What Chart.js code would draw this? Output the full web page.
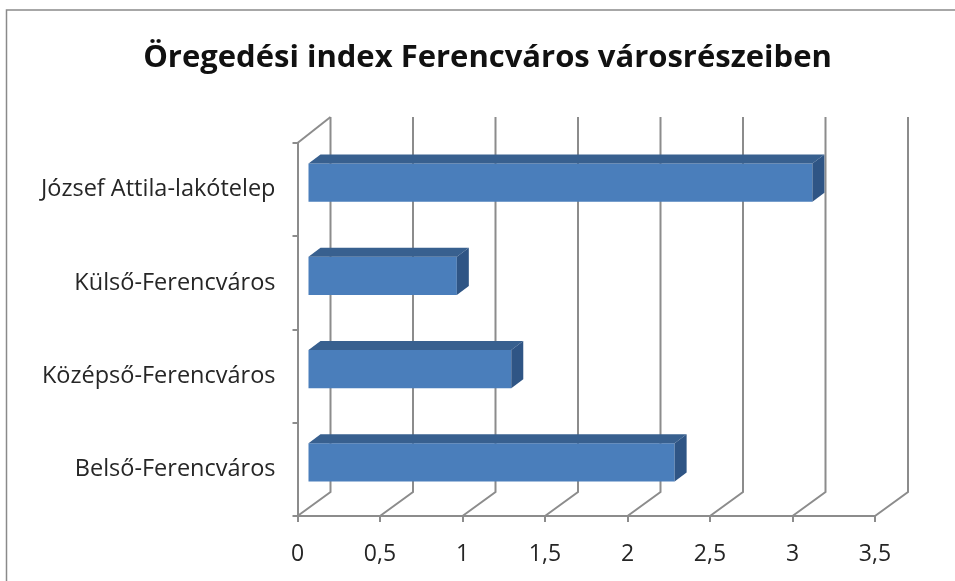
<!DOCTYPE html>
<html><head><meta charset="utf-8">
<style>html,body{margin:0;padding:0;background:#fff;overflow:hidden}#w{width:955px;height:581px}canvas{display:block;filter:blur(0.45px)}</style>
<script src="https://cdn.jsdelivr.net/npm/chart.js@4"></script></head>
<body><div id="w"><canvas id="c" width="955" height="581"></canvas></div>
<script>
const categories = ["József Attila-lakótelep","Külső-Ferencváros","Középső-Ferencváros","Belső-Ferencváros"];
const values = [3.06,0.905,1.235,2.225];
const titleText = "Öregedési index Ferencváros városrészeiben";
const axisMax = 3.5, axisStep = 0.5;
const gridCol = "#8c8c8c", front = "#4a7ebb", topFace = "#38608f", sideFace = "#2f5585";
const DX = 33, DY = 24, BX = 10, BY = 7, BDX = 12, BDY = 9;

const threeD = {
  id:"threeD",
  afterLayout(ch){ if(ch.titleBlock){ch.titleBlock.left+=50;ch.titleBlock.right+=50;} },
  beforeDatasetsDraw(ch){
    const c=ch.ctx,x=ch.scales.x,a=ch.chartArea;
    c.save();
    c.strokeStyle="#8a8a8a";c.lineWidth=1.5;
    c.beginPath();c.moveTo(955,10);c.lineTo(6.5,10);c.lineTo(6.5,581);c.stroke();
    c.strokeStyle=gridCol;c.lineWidth=2;
    for(let v=0;v<=axisMax+1e-9;v+=axisStep){
      const p=x.getPixelForValue(v);
      c.beginPath();c.moveTo(p,a.bottom);c.lineTo(p+DX,a.bottom-DY);c.lineTo(p+DX,a.top-DY-2);c.stroke();
    }
    const p0=x.left;
    c.beginPath();c.moveTo(p0,a.top);c.lineTo(p0+DX,a.top-DY-2);c.stroke();
    c.restore();
    c.save();c.translate(BX,-BY);
  },
  afterDatasetsDraw(ch){
    const c=ch.ctx;
    ch.getDatasetMeta(0).data.forEach(b=>{
      const t=b.y-b.height/2,bm=b.y+b.height/2,l=b.base,r=b.x;
      c.fillStyle=topFace;c.beginPath();c.moveTo(l,t);c.lineTo(l+BDX,t-BDY);c.lineTo(r+BDX,t-BDY);c.lineTo(r,t);c.closePath();c.fill();
      c.fillStyle=sideFace;c.beginPath();c.moveTo(r,t);c.lineTo(r+BDX,t-BDY);c.lineTo(r+BDX,bm-BDY);c.lineTo(r,bm);c.closePath();c.fill();
    });
    c.restore();
  }
};

new Chart(document.getElementById("c"),{
  type:"bar",
  data:{labels:categories,datasets:[{data:values,backgroundColor:front,borderWidth:0,barPercentage:0.41,categoryPercentage:1}]},
  options:{
    indexAxis:"y",responsive:false,animation:false,
    layout:{padding:{top:0,left:0,right:80,bottom:0}},
    plugins:{legend:{display:false},tooltip:{enabled:false},
      title:{display:true,text:titleText,color:"#111",font:{family:"Open Sans",size:31,weight:"700"},padding:{top:40,bottom:65.8}}},
    scales:{
      x:{type:"linear",min:0,max:axisMax,
        ticks:{stepSize:axisStep,color:"#262626",font:{family:"Open Sans",size:23},padding:19,maxRotation:0,
          callback:v=>String(v).replace(".",",")},
        grid:{drawOnChartArea:false,color:gridCol,lineWidth:2,tickLength:6,tickColor:gridCol},
        border:{color:gridCol,width:2},
        afterFit(s){s.height=65;}},
      y:{type:"category",
        ticks:{color:"#262626",font:{family:"Open Sans",size:23.5},padding:17},
        grid:{drawOnChartArea:false,color:gridCol,lineWidth:2,tickLength:5,tickColor:gridCol,offset:true},
        border:{color:gridCol,width:2},
        afterFit(s){s.width=297.5;}}
    }
  },
  plugins:[threeD]
});
</script></body></html>
